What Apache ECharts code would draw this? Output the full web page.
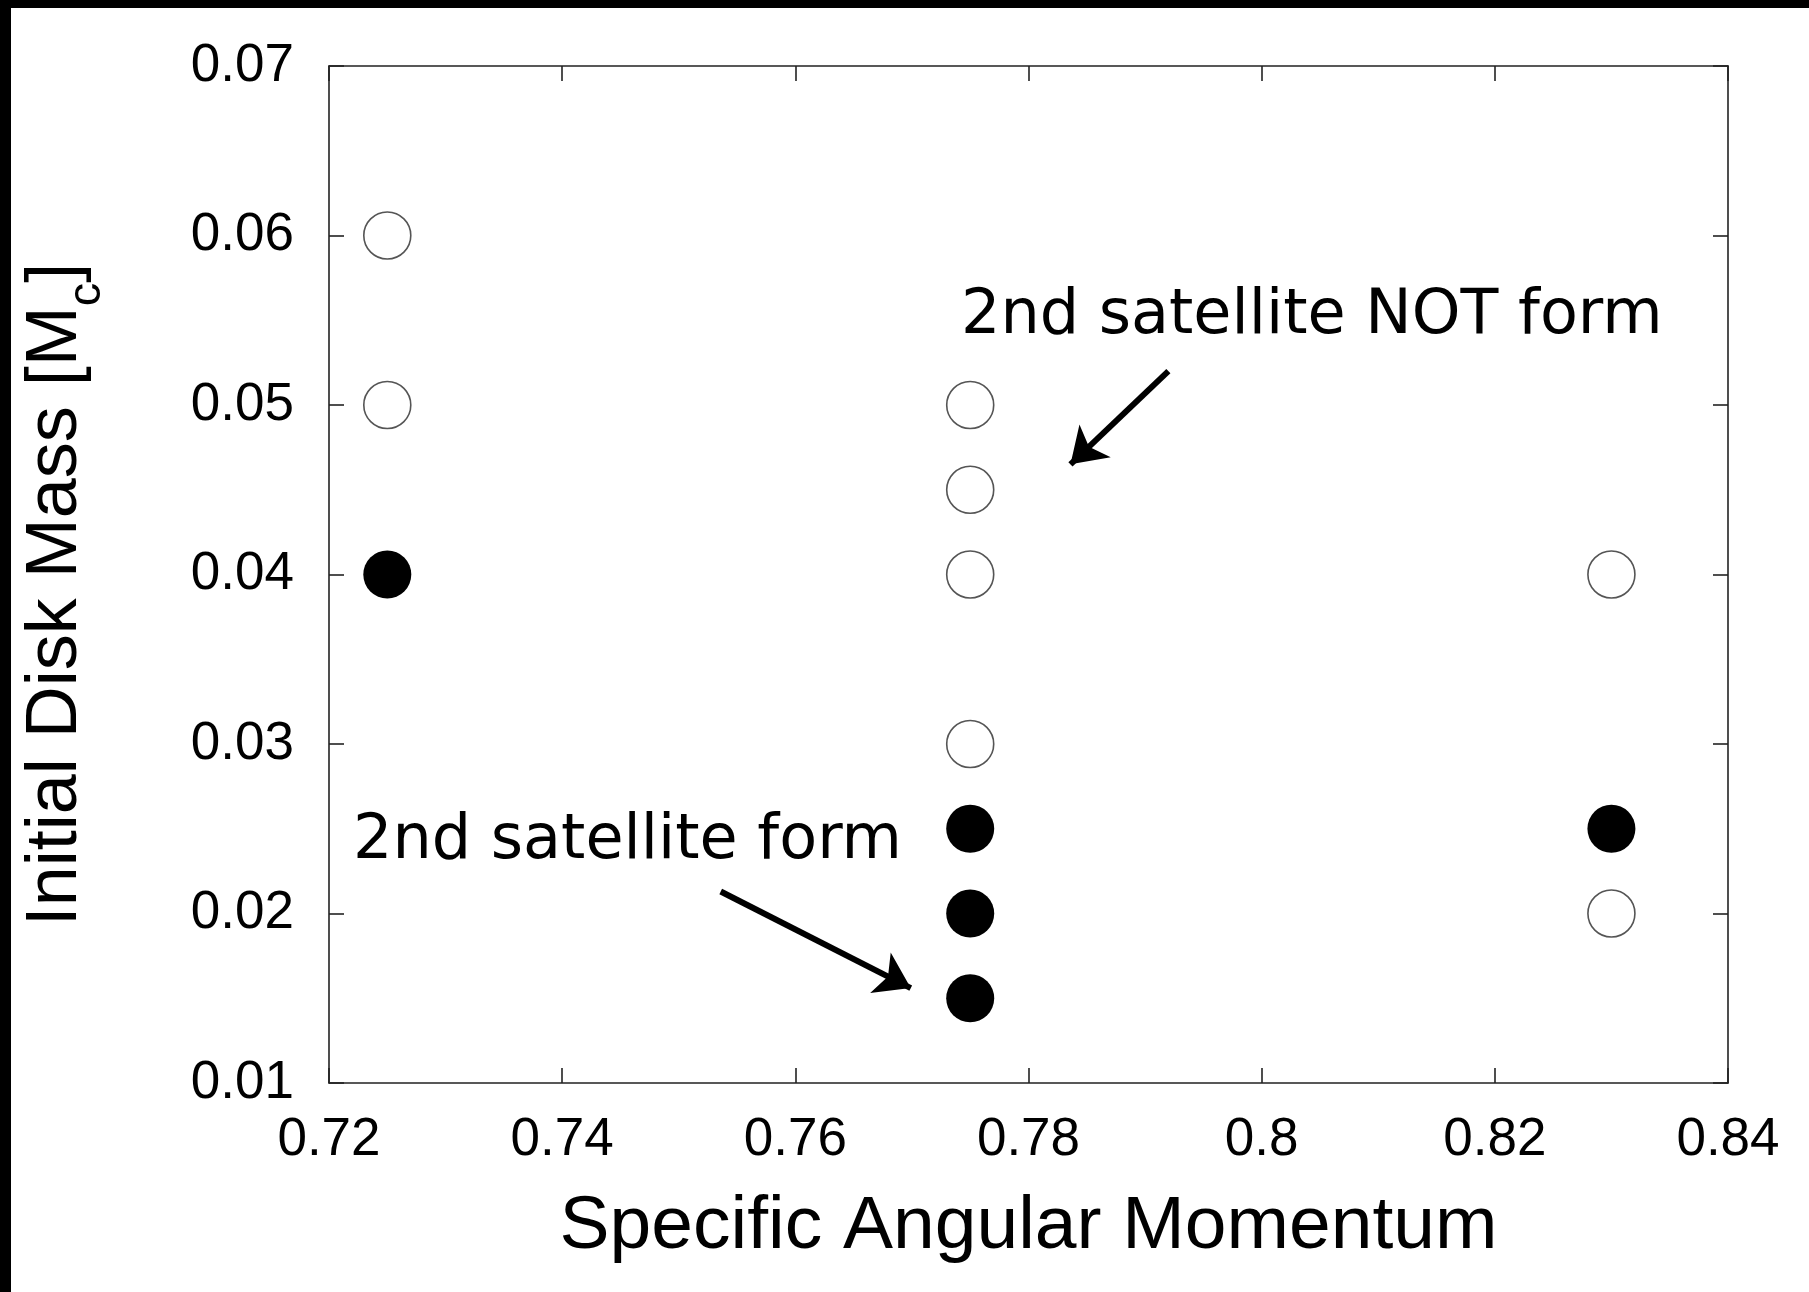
<!DOCTYPE html>
<html>
<head>
<meta charset="utf-8">
<title>Initial Disk Mass vs Specific Angular Momentum</title>
<script src="https://cdn.jsdelivr.net/npm/echarts@6/dist/echarts.min.js"></script>
<style>
  html, body { margin: 0; padding: 0; background: #fff; }
  #main { width: 1809px; height: 1292px; }
</style>
</head>
<body>
<div id="main"></div>
<script>
// runs where the 2nd satellite formed (filled dots)
var formX = [0.725, 0.775, 0.775, 0.775, 0.83];
var formY = [0.04, 0.025, 0.02, 0.015, 0.025];
// runs where it did not (open circles)
var notFormX = [0.725, 0.725, 0.775, 0.775, 0.775, 0.775, 0.83, 0.83];
var notFormY = [0.06, 0.05, 0.05, 0.045, 0.04, 0.03, 0.04, 0.02];

// axis ranges / ticks
var xMin = 0.72, xMax = 0.84, xStep = 0.02;
var yMin = 0.01, yMax = 0.07, yStep = 0.01;

// annotation text and arrows, in data units
var noteText = ['2nd satellite NOT form', '2nd satellite form'];
var noteX = [0.8043, 0.7456];
var noteY = [0.0552, 0.0242];
var arrowFromX = [0.7920, 0.7536];
var arrowFromY = [0.0520, 0.0213];
var arrowToX = [0.7836, 0.7699];
var arrowToY = [0.0465, 0.0156];

function zip(xs, ys) {
  return xs.map(function (x, i) { return [x, ys[i]]; });
}

var tickFont = 'Liberation Sans, Arial, Helvetica, sans-serif';
var axisColor = '#222';

var chart = echarts.init(document.getElementById('main'));

var xBase = {
  type: 'value', min: xMin, max: xMax, interval: xStep,
  splitLine: { show: false },
  axisLine: { show: true, onZero: false, lineStyle: { color: axisColor, width: 1.6 } },
  axisTick: { show: true, inside: true, length: 15, lineStyle: { color: axisColor, width: 1.6 } }
};
var yBase = {
  type: 'value', min: yMin, max: yMax, interval: yStep,
  splitLine: { show: false },
  axisLine: { show: true, onZero: false, lineStyle: { color: axisColor, width: 1.6 } },
  axisTick: { show: true, inside: true, length: 15, lineStyle: { color: axisColor, width: 1.6 } }
};

var option = {
  animation: false,
  backgroundColor: '#fff',
  grid: { left: 329, right: 81, top: 66, bottom: 209 },
  xAxis: [
    Object.assign({}, xBase, {
      position: 'bottom',
      name: 'Specific Angular Momentum',
      nameLocation: 'middle',
      nameGap: 107,
      nameTextStyle: { fontFamily: tickFont, fontSize: 75, color: '#000' },
      axisLabel: { fontFamily: tickFont, fontSize: 53, color: '#000', margin: 31 }
    }),
    Object.assign({}, xBase, { position: 'top', axisLabel: { show: false } })
  ],
  yAxis: [
    Object.assign({}, yBase, {
      position: 'left',
      name: '{a|Initial Disk Mass [M}{s|c}{a|]}',
      nameLocation: 'middle',
      nameRotate: 90,
      nameGap: 232,
      nameTextStyle: {
        padding: [0, 40, 0, 0],
        rich: {
          a: { fontFamily: tickFont, fontSize: 72, color: '#000', lineHeight: 82 },
          s: { fontFamily: tickFont, fontSize: 47, color: '#000', lineHeight: 82, verticalAlign: 'bottom', padding: [0, 0, -14, 0] }
        }
      },
      axisLabel: { fontFamily: tickFont, fontSize: 53, color: '#000', margin: 35 }
    }),
    Object.assign({}, yBase, { position: 'right', axisLabel: { show: false } })
  ],
  graphic: [
    { type: 'rect', left: 0, top: 0, shape: { width: 11, height: 1292 }, style: { fill: '#000' } },
    { type: 'rect', left: 0, top: 0, shape: { width: 1809, height: 8 }, style: { fill: '#000' } }
  ],
  series: [
    {
      name: 'not form',
      type: 'scatter',
      symbol: 'circle',
      symbolSize: 47,
      data: zip(notFormX, notFormY),
      itemStyle: { color: '#fff', borderColor: '#555', borderWidth: 1.6, opacity: 1 },
      silent: true
    },
    {
      name: 'form',
      type: 'scatter',
      symbol: 'circle',
      symbolSize: 48,
      data: zip(formX, formY),
      itemStyle: { color: '#000', opacity: 1 },
      silent: true
    },
    {
      name: 'notes',
      type: 'scatter',
      symbolSize: 1,
      itemStyle: { color: 'transparent', opacity: 1 },
      data: noteText.map(function (t, i) { return [noteX[i], noteY[i], t]; }),
      label: {
        show: true,
        position: 'inside',
        formatter: function (p) { return p.value[2]; },
        fontFamily: '"DejaVu Sans", sans-serif',
        fontSize: 62,
        color: '#000'
      },
      silent: true,
      markLine: {
        silent: true,
        symbol: ['none', 'arrow'],
        symbolSize: [34, 34],
        label: { show: false },
        lineStyle: { color: '#000', width: 6, type: 'solid', opacity: 1 },
        data: arrowFromX.map(function (x, i) {
          return [{ coord: [x, arrowFromY[i]] }, { coord: [arrowToX[i], arrowToY[i]] }];
        })
      }
    }
  ]
};

chart.setOption(option);
</script>
</body>
</html>
